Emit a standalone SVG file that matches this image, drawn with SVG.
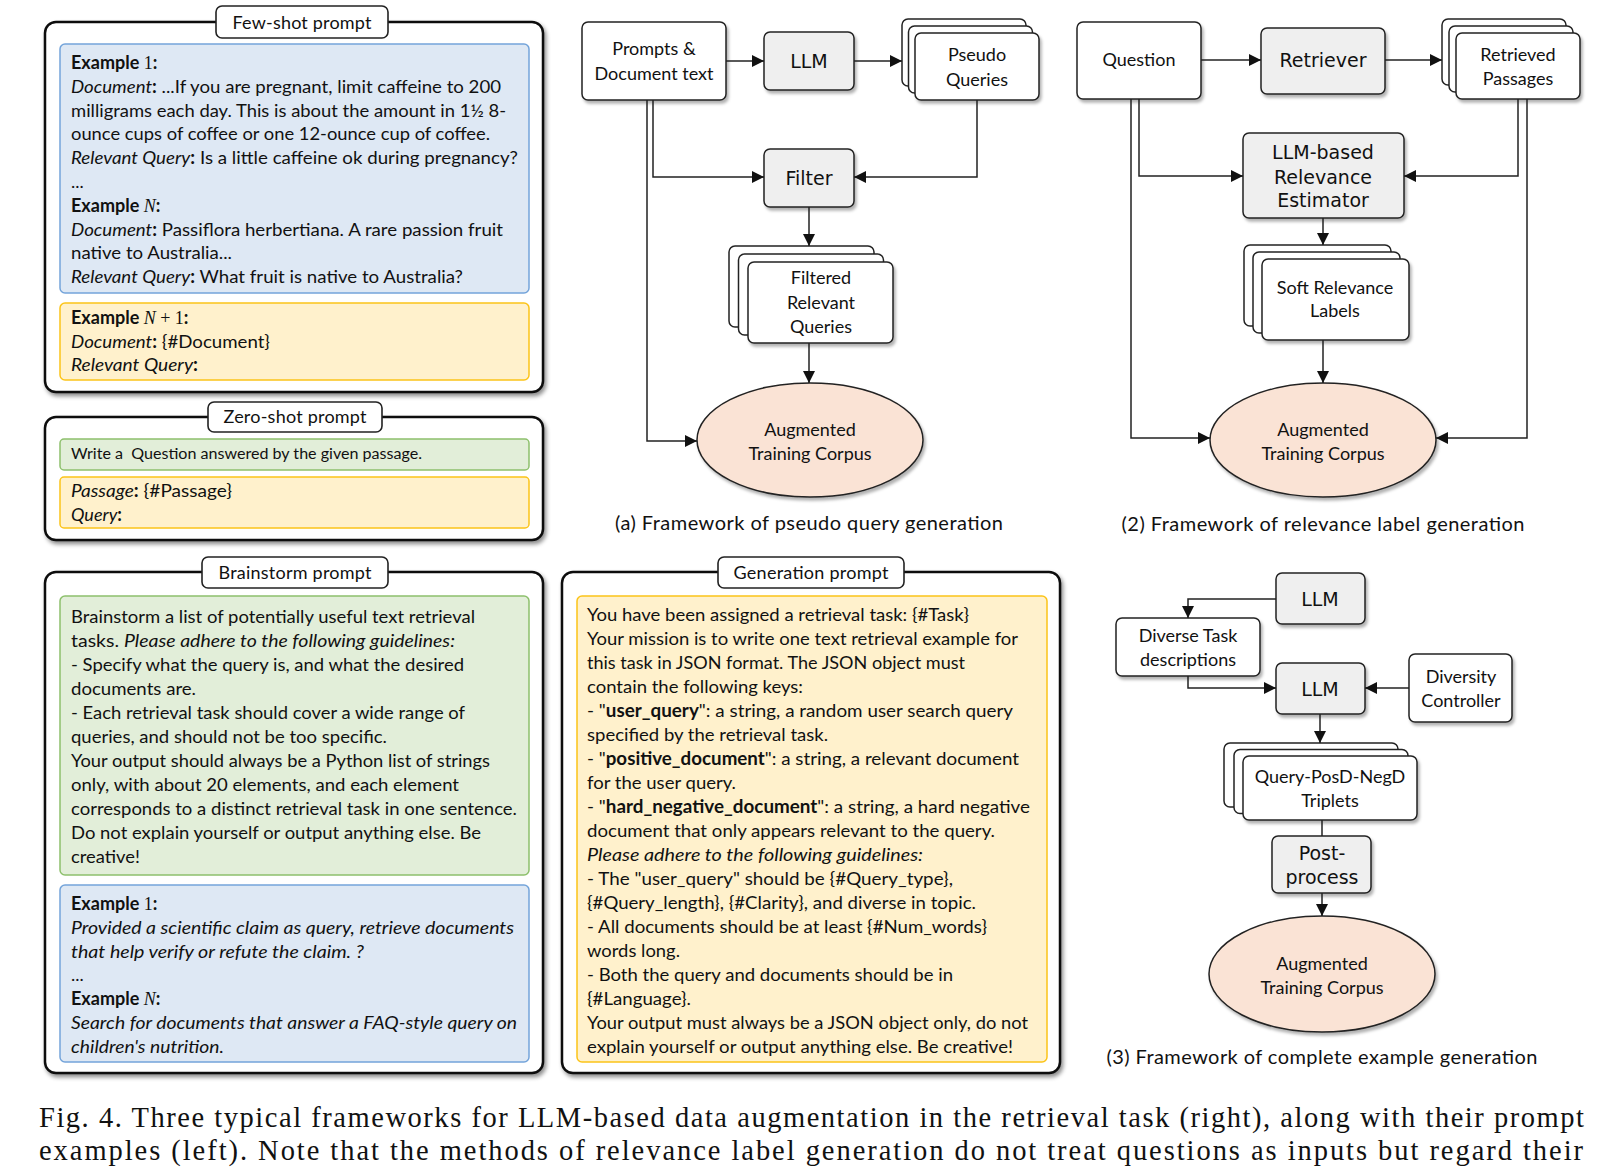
<svg xmlns="http://www.w3.org/2000/svg" width="1605" height="1167" viewBox="0 0 1605 1167">
<style>
.t{font-family:Lato,"Noto Sans",sans-serif;font-size:18px;fill:#111}
.s{font-family:Lato,"Noto Sans",sans-serif;font-size:15.5px;fill:#111}
.n{font-family:Lato,"Noto Sans",sans-serif;font-size:18px;fill:#111;text-anchor:middle}
.c{font-family:"DejaVu Sans",sans-serif;font-size:19px;fill:#111;text-anchor:middle}
.cap{font-family:Lato,"Noto Sans",sans-serif;font-size:20px;fill:#111;text-anchor:middle}
.fig{font-family:"Liberation Serif",serif;font-size:28.5px;fill:#111}
.b{font-weight:bold}
.i{font-style:italic}
.m{font-family:"Liberation Serif",serif}
.outer{fill:#fff;stroke:#111;stroke-width:2.5}
.lab{fill:#fff;stroke:#222;stroke-width:1.6}
.blue{fill:#dee8f4;stroke:#74a4da;stroke-width:1.5}
.green{fill:#e2eed9;stroke:#8dc06c;stroke-width:1.5}
.yel{fill:#fff1cc;stroke:#fcc419;stroke-width:1.5}
.box{fill:#fff;stroke:#222;stroke-width:1.5}
.grey{fill:#efefef;stroke:#222;stroke-width:1.5}
.ell{fill:#fae3d5;stroke:#222;stroke-width:1.5}
.ln{fill:none;stroke:#222;stroke-width:1.5}
</style>
<defs>
<filter id="sh" x="-10%" y="-10%" width="125%" height="125%">
<feDropShadow dx="2" dy="3" stdDeviation="2" flood-color="#000" flood-opacity="0.45"/>
</filter>
<filter id="sh2" x="-10%" y="-10%" width="125%" height="130%">
<feDropShadow dx="2" dy="3" stdDeviation="1.8" flood-color="#000" flood-opacity="0.3"/>
</filter>
<marker id="arr" viewBox="0 0 10 10" refX="10" refY="5" markerWidth="12" markerHeight="12" markerUnits="userSpaceOnUse" orient="auto">
<path d="M0,0 L10,5 L0,10 z" fill="#111"/>
</marker>
</defs>
<rect width="1605" height="1167" fill="#fff"/>

<!-- Few-shot prompt -->
<g id="few-shot">
<rect class="outer" x="45" y="22" width="498" height="370" rx="11" filter="url(#sh)"/>
<rect class="lab" x="216" y="6" width="172" height="32" rx="6"/>
<text class="n" x="302" y="29" textLength="139">Few-shot prompt</text>
<rect class="blue" x="60" y="44" width="469" height="249" rx="5"/>
<text class="t" x="71" y="69"><tspan class="b">Example </tspan><tspan class="m">1</tspan><tspan class="b">:</tspan></text>
<text class="t" x="71" y="92.8" textLength="430" lengthAdjust="spacingAndGlyphs"><tspan class="i">Document</tspan><tspan class="b">:</tspan> ...If you are pregnant, limit caffeine to 200</text>
<text class="t" x="71" y="116.6" textLength="435" lengthAdjust="spacingAndGlyphs">milligrams each day. This is about the amount in 1½ 8-</text>
<text class="t" x="71" y="140.4" textLength="419" lengthAdjust="spacingAndGlyphs">ounce cups of coffee or one 12-ounce cup of coffee.</text>
<text class="t" x="71" y="164.2" textLength="447" lengthAdjust="spacingAndGlyphs"><tspan class="i">Relevant Query</tspan><tspan class="b">:</tspan> Is a little caffeine ok during pregnancy?</text>
<text class="t" x="71" y="188">...</text>
<text class="t" x="71" y="211.8"><tspan class="b">Example </tspan><tspan class="m i">N</tspan><tspan class="b">:</tspan></text>
<text class="t" x="71" y="235.6" textLength="432" lengthAdjust="spacingAndGlyphs"><tspan class="i">Document</tspan><tspan class="b">:</tspan> Passiflora herbertiana. A rare passion fruit</text>
<text class="t" x="71" y="259.4" textLength="161" lengthAdjust="spacingAndGlyphs">native to Australia...</text>
<text class="t" x="71" y="283.2" textLength="392" lengthAdjust="spacingAndGlyphs"><tspan class="i">Relevant Query</tspan><tspan class="b">:</tspan> What fruit is native to Australia?</text>
<rect class="yel" x="60" y="303" width="469" height="77" rx="5"/>
<text class="t" x="71" y="324"><tspan class="b">Example </tspan><tspan class="m i">N</tspan><tspan class="m"> + 1</tspan><tspan class="b">:</tspan></text>
<text class="t" x="71" y="348" textLength="199" lengthAdjust="spacingAndGlyphs"><tspan class="i">Document</tspan><tspan class="b">:</tspan> {#Document}</text>
<text class="t" x="71" y="371" textLength="127" lengthAdjust="spacingAndGlyphs"><tspan class="i">Relevant Query</tspan><tspan class="b">:</tspan></text>
</g>

<!-- Zero-shot prompt -->
<g id="zero-shot">
<rect class="outer" x="45" y="417" width="498" height="123" rx="11" filter="url(#sh)"/>
<rect class="lab" x="208" y="402" width="174" height="30" rx="6"/>
<text class="n" x="295" y="423" textLength="143">Zero-shot prompt</text>
<rect class="green" x="60" y="439" width="469" height="31" rx="4"/>
<text class="s" x="71" y="459" textLength="351" lengthAdjust="spacingAndGlyphs" xml:space="preserve">Write a  Question answered by the given passage.</text>
<rect class="yel" x="60" y="477" width="469" height="51" rx="4"/>
<text class="t" x="71" y="497" textLength="161" lengthAdjust="spacingAndGlyphs"><tspan class="i">Passage</tspan><tspan class="b">:</tspan> {#Passage}</text>
<text class="t" x="71" y="521"><tspan class="i">Query</tspan><tspan class="b">:</tspan></text>
</g>

<!-- Brainstorm prompt -->
<g id="brainstorm">
<rect class="outer" x="45" y="572" width="498" height="501" rx="11" filter="url(#sh)"/>
<rect class="lab" x="202" y="557" width="186" height="31" rx="6"/>
<text class="n" x="295" y="579" textLength="153">Brainstorm prompt</text>
<rect class="green" x="60" y="596" width="469" height="279" rx="5"/>
<text class="t" x="71" y="623" textLength="404" lengthAdjust="spacingAndGlyphs">Brainstorm a list of potentially useful text retrieval</text>
<text class="t" x="71" y="647" textLength="384" lengthAdjust="spacingAndGlyphs">tasks. <tspan class="i">Please adhere to the following guidelines:</tspan></text>
<text class="t" x="71" y="671" textLength="393" lengthAdjust="spacingAndGlyphs">- Specify what the query is, and what the desired</text>
<text class="t" x="71" y="695" textLength="125" lengthAdjust="spacingAndGlyphs">documents are.</text>
<text class="t" x="71" y="719" textLength="394" lengthAdjust="spacingAndGlyphs">- Each retrieval task should cover a wide range of</text>
<text class="t" x="71" y="743" textLength="316" lengthAdjust="spacingAndGlyphs">queries, and should not be too specific.</text>
<text class="t" x="71" y="767" textLength="419" lengthAdjust="spacingAndGlyphs">Your output should always be a Python list of strings</text>
<text class="t" x="71" y="791" textLength="388" lengthAdjust="spacingAndGlyphs">only, with about 20 elements, and each element</text>
<text class="t" x="71" y="815" textLength="446" lengthAdjust="spacingAndGlyphs">corresponds to a distinct retrieval task in one sentence.</text>
<text class="t" x="71" y="839" textLength="410" lengthAdjust="spacingAndGlyphs">Do not explain yourself or output anything else. Be</text>
<text class="t" x="71" y="863" textLength="69" lengthAdjust="spacingAndGlyphs">creative!</text>
<rect class="blue" x="60" y="885" width="469" height="177" rx="5"/>
<text class="t" x="71" y="910"><tspan class="b">Example </tspan><tspan class="m">1</tspan><tspan class="b">:</tspan></text>
<text class="t i" x="71" y="934" textLength="443" lengthAdjust="spacingAndGlyphs">Provided a scientific claim as query, retrieve documents</text>
<text class="t i" x="71" y="957.5" textLength="293" lengthAdjust="spacingAndGlyphs">that help verify or refute the claim. ?</text>
<text class="t" x="71" y="981">...</text>
<text class="t" x="71" y="1005"><tspan class="b">Example </tspan><tspan class="m i">N</tspan><tspan class="b">:</tspan></text>
<text class="t i" x="71" y="1029" textLength="446" lengthAdjust="spacingAndGlyphs">Search for documents that answer a FAQ-style query on</text>
<text class="t i" x="71" y="1053" textLength="153" lengthAdjust="spacingAndGlyphs">children's nutrition.</text>
</g>

<!-- Generation prompt -->
<g id="generation">
<rect class="outer" x="562" y="572" width="498" height="501" rx="11" filter="url(#sh)"/>
<rect class="lab" x="718" y="557" width="186" height="31" rx="6"/>
<text class="n" x="811" y="579" textLength="155">Generation prompt</text>
<rect class="yel" x="577" y="596" width="470" height="466" rx="5"/>
<text class="t" x="587" y="621" textLength="382" lengthAdjust="spacingAndGlyphs">You have been assigned a retrieval task: {#Task}</text>
<text class="t" x="587" y="645" textLength="431" lengthAdjust="spacingAndGlyphs">Your mission is to write one text retrieval example for</text>
<text class="t" x="587" y="669" textLength="378" lengthAdjust="spacingAndGlyphs">this task in JSON format. The JSON object must</text>
<text class="t" x="587" y="693" textLength="216" lengthAdjust="spacingAndGlyphs">contain the following keys:</text>
<text class="t" x="587" y="717" textLength="426" lengthAdjust="spacingAndGlyphs">- "<tspan class="b">user_query</tspan>": a string, a random user search query</text>
<text class="t" x="587" y="741" textLength="241" lengthAdjust="spacingAndGlyphs">specified by the retrieval task.</text>
<text class="t" x="587" y="765" textLength="432" lengthAdjust="spacingAndGlyphs">- "<tspan class="b">positive_document</tspan>": a string, a relevant document</text>
<text class="t" x="587" y="789" textLength="149" lengthAdjust="spacingAndGlyphs">for the user query.</text>
<text class="t" x="587" y="813" textLength="443" lengthAdjust="spacingAndGlyphs">- "<tspan class="b">hard_negative_document</tspan>": a string, a hard negative</text>
<text class="t" x="587" y="837" textLength="408" lengthAdjust="spacingAndGlyphs">document that only appears relevant to the query.</text>
<text class="t i" x="587" y="861" textLength="336" lengthAdjust="spacingAndGlyphs">Please adhere to the following guidelines:</text>
<text class="t" x="587" y="885" textLength="366" lengthAdjust="spacingAndGlyphs">- The "user_query" should be {#Query_type},</text>
<text class="t" x="587" y="909" textLength="389" lengthAdjust="spacingAndGlyphs">{#Query_length}, {#Clarity}, and diverse in topic.</text>
<text class="t" x="587" y="933" textLength="400" lengthAdjust="spacingAndGlyphs">- All documents should be at least {#Num_words}</text>
<text class="t" x="587" y="957" textLength="93" lengthAdjust="spacingAndGlyphs">words long.</text>
<text class="t" x="587" y="981" textLength="366" lengthAdjust="spacingAndGlyphs">- Both the query and documents should be in</text>
<text class="t" x="587" y="1005" textLength="104" lengthAdjust="spacingAndGlyphs">{#Language}.</text>
<text class="t" x="587" y="1029" textLength="441" lengthAdjust="spacingAndGlyphs">Your output must always be a JSON object only, do not</text>
<text class="t" x="587" y="1053" textLength="426" lengthAdjust="spacingAndGlyphs">explain yourself or output anything else. Be creative!</text>
</g>

<!-- Panel (a) nodes -->
<g id="a-prompts">
<rect class="box" x="582" y="22" width="144" height="78" rx="6" filter="url(#sh2)"/>
<text class="n" x="654" y="55">Prompts &amp;</text>
<text class="n" x="654" y="80">Document text</text>
</g>
<g id="a-llm">
<rect class="grey" x="764" y="32" width="90" height="58" rx="6" filter="url(#sh2)"/>
<text class="c" x="809" y="68">LLM</text>
</g>
<g id="a-pseudo">
<rect class="box" x="902" y="19" width="124" height="67" rx="6"/>
<rect class="box" x="908.5" y="26" width="124" height="67" rx="6"/>
<rect class="box" x="915" y="33" width="124" height="67" rx="6" filter="url(#sh2)"/>
<text class="n" x="977" y="61">Pseudo</text>
<text class="n" x="977" y="86">Queries</text>
</g>
<g id="a-filter">
<rect class="grey" x="764" y="149" width="90" height="58" rx="6" filter="url(#sh2)"/>
<text class="c" x="809" y="185">Filter</text>
</g>
<g id="a-filtered">
<rect class="box" x="729" y="246" width="145" height="81" rx="6"/>
<rect class="box" x="738.5" y="254" width="145" height="81" rx="6"/>
<rect class="box" x="748" y="262" width="145" height="81" rx="6" filter="url(#sh2)"/>
<text class="n" x="821" y="284">Filtered</text>
<text class="n" x="821" y="309">Relevant</text>
<text class="n" x="821" y="333">Queries</text>
</g>
<g id="a-corpus">
<ellipse class="ell" cx="810" cy="440" rx="113" ry="57" filter="url(#sh2)"/>
<text class="n" x="810" y="436">Augmented</text>
<text class="n" x="810" y="460">Training Corpus</text>
</g>
<text class="cap" x="809" y="530" textLength="388">(a) Framework of pseudo query generation</text>

<!-- Panel (2) nodes -->
<g id="b-question">
<rect class="box" x="1077" y="22" width="124" height="77" rx="6" filter="url(#sh2)"/>
<text class="n" x="1139" y="66">Question</text>
</g>
<g id="b-retriever">
<rect class="grey" x="1261" y="28" width="124" height="66" rx="6" filter="url(#sh2)"/>
<text class="c" x="1323" y="67">Retriever</text>
</g>
<g id="b-passages">
<rect class="box" x="1442" y="19" width="124" height="66" rx="6"/>
<rect class="box" x="1449" y="26" width="124" height="66" rx="6"/>
<rect class="box" x="1456" y="33" width="124" height="66" rx="6" filter="url(#sh2)"/>
<text class="n" x="1518" y="61">Retrieved</text>
<text class="n" x="1518" y="85">Passages</text>
</g>
<g id="b-estimator">
<rect class="grey" x="1243" y="133" width="161" height="85" rx="6" filter="url(#sh2)"/>
<text class="c" x="1323" y="159">LLM-based</text>
<text class="c" x="1323" y="184">Relevance</text>
<text class="c" x="1323" y="207">Estimator</text>
</g>
<g id="b-labels">
<rect class="box" x="1244" y="245" width="147" height="81" rx="6"/>
<rect class="box" x="1253" y="252" width="147" height="81" rx="6"/>
<rect class="box" x="1262" y="259" width="147" height="81" rx="6" filter="url(#sh2)"/>
<text class="n" x="1335" y="294">Soft Relevance</text>
<text class="n" x="1335" y="317">Labels</text>
</g>
<g id="b-corpus">
<ellipse class="ell" cx="1323" cy="440" rx="113" ry="57" filter="url(#sh2)"/>
<text class="n" x="1323" y="436">Augmented</text>
<text class="n" x="1323" y="460">Training Corpus</text>
</g>
<text class="cap" x="1323" y="531" textLength="403">(2) Framework of relevance label generation</text>

<!-- Panel (3) nodes -->
<g id="c-llm1">
<rect class="grey" x="1276" y="573" width="89" height="51" rx="6" filter="url(#sh2)"/>
<text class="c" x="1320" y="606">LLM</text>
</g>
<g id="c-diverse">
<rect class="box" x="1116" y="618" width="144" height="58" rx="6" filter="url(#sh2)"/>
<text class="n" x="1188" y="642">Diverse Task</text>
<text class="n" x="1188" y="666">descriptions</text>
</g>
<g id="c-llm2">
<rect class="grey" x="1276" y="663" width="89" height="51" rx="6" filter="url(#sh2)"/>
<text class="c" x="1320" y="696">LLM</text>
</g>
<g id="c-diversity">
<rect class="box" x="1409" y="654" width="103" height="68" rx="6" filter="url(#sh2)"/>
<text class="n" x="1461" y="683">Diversity</text>
<text class="n" x="1461" y="707">Controller</text>
</g>
<g id="c-triplets">
<rect class="box" x="1224" y="743" width="174" height="64" rx="6"/>
<rect class="box" x="1234" y="749.5" width="174" height="64" rx="6"/>
<rect class="box" x="1243" y="756" width="174" height="64" rx="6" filter="url(#sh2)"/>
<text class="n" x="1330" y="783">Query-PosD-NegD</text>
<text class="n" x="1330" y="807">Triplets</text>
</g>
<g id="c-post">
<rect class="grey" x="1272" y="836" width="99" height="57" rx="6" filter="url(#sh2)"/>
<text class="c" x="1322" y="860">Post-</text>
<text class="c" x="1322" y="884">process</text>
</g>
<g id="c-corpus">
<ellipse class="ell" cx="1322" cy="974" rx="113" ry="58" filter="url(#sh2)"/>
<text class="n" x="1322" y="970">Augmented</text>
<text class="n" x="1322" y="994">Training Corpus</text>
</g>
<text class="cap" x="1322" y="1064" textLength="431">(3) Framework of complete example generation</text>

<!-- Connectors -->
<g id="connectors">
<path class="ln" d="M726,61 H764" marker-end="url(#arr)"/>
<path class="ln" d="M854,61 H902" marker-end="url(#arr)"/>
<path class="ln" d="M653,100 V177 H764" marker-end="url(#arr)"/>
<path class="ln" d="M647,100 V441 H697" marker-end="url(#arr)"/>
<path class="ln" d="M977,100 V177 H854" marker-end="url(#arr)"/>
<path class="ln" d="M809,207 V246" marker-end="url(#arr)"/>
<path class="ln" d="M809,343 V383" marker-end="url(#arr)"/>

<path class="ln" d="M1201,60 H1261" marker-end="url(#arr)"/>
<path class="ln" d="M1385,60 H1442" marker-end="url(#arr)"/>
<path class="ln" d="M1139,99 V176 H1243" marker-end="url(#arr)"/>
<path class="ln" d="M1131,99 V438 H1210" marker-end="url(#arr)"/>
<path class="ln" d="M1518,99 V176 H1404" marker-end="url(#arr)"/>
<path class="ln" d="M1527,99 V438 H1436" marker-end="url(#arr)"/>
<path class="ln" d="M1323,218 V245" marker-end="url(#arr)"/>
<path class="ln" d="M1323,340 V383" marker-end="url(#arr)"/>

<path class="ln" d="M1276,599 H1188 V618" marker-end="url(#arr)"/>
<path class="ln" d="M1188,676 V688 H1276" marker-end="url(#arr)"/>
<path class="ln" d="M1409,688 H1365" marker-end="url(#arr)"/>
<path class="ln" d="M1320,714 V743" marker-end="url(#arr)"/>
<path class="ln" d="M1322,820 V836"/>
<path class="ln" d="M1322,893 V916" marker-end="url(#arr)"/>
</g>

<!-- Figure caption -->
<text class="fig" x="39" y="1127" textLength="1545" lengthAdjust="spacing">Fig. 4. Three typical frameworks for LLM-based data augmentation in the retrieval task (right), along with their prompt</text>
<text class="fig" x="39" y="1160" textLength="1544" lengthAdjust="spacing">examples (left). Note that the methods of relevance label generation do not treat questions as inputs but regard their</text>
</svg>
